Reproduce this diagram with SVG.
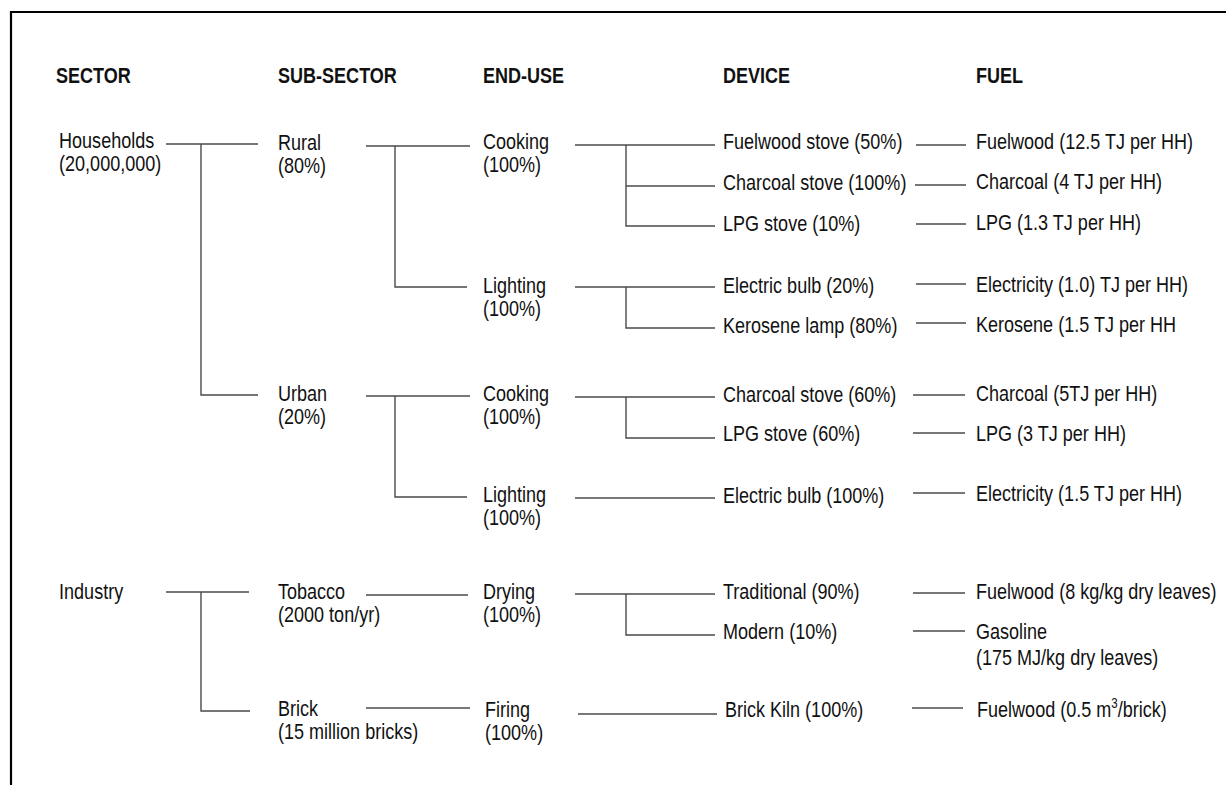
<svg xmlns="http://www.w3.org/2000/svg" width="1226" height="785" viewBox="0 0 1226 785">
<style>
text{font-family:"Liberation Sans",Arial,sans-serif;font-size:22px;fill:#111}
.h{font-weight:bold}
.n{transform:scale(0.82,1)}
.c line,.c polyline{stroke:#4a4a4a;stroke-width:1.4;fill:none}
.frame{stroke:#000;stroke-width:2.2;fill:none}
</style>
<rect width="1226" height="785" fill="#fff"/>
<path class="frame" d="M11,785 V12 H1226"/>
<g id="headers" class="n">
<text class="h" x="68.3" y="83">SECTOR</text>
<text class="h" x="339" y="83">SUB-SECTOR</text>
<text class="h" x="589" y="83">END-USE</text>
<text class="h" x="881.7" y="83">DEVICE</text>
<text class="h" x="1190.2" y="83">FUEL</text>
</g>
<g class="c" id="connectors">
<line x1="166" y1="144" x2="258" y2="144"/>
<polyline points="201,144 201,395 258,395"/>
<line x1="366" y1="146" x2="470" y2="146"/>
<polyline points="395,146 395,287 467,287"/>
<line x1="575" y1="145" x2="715" y2="145"/>
<polyline points="626,145 626,226 715,226"/>
<line x1="626" y1="186" x2="715" y2="186"/>
<line x1="916" y1="145" x2="966" y2="145"/>
<line x1="915" y1="185" x2="966" y2="185"/>
<line x1="916" y1="224" x2="966" y2="224"/>
<line x1="575" y1="287" x2="715" y2="287"/>
<polyline points="626,287 626,328 715,328"/>
<line x1="916" y1="284" x2="966" y2="284"/>
<line x1="916" y1="323" x2="966" y2="323"/>
<line x1="366" y1="396" x2="470" y2="396"/>
<polyline points="395,396 395,497 467,497"/>
<line x1="575" y1="397" x2="715" y2="397"/>
<polyline points="626,397 626,438 715,438"/>
<line x1="575" y1="498" x2="715" y2="498"/>
<line x1="913" y1="395" x2="965" y2="395"/>
<line x1="913" y1="433" x2="965" y2="433"/>
<line x1="913" y1="493" x2="965" y2="493"/>
<line x1="166" y1="592" x2="249" y2="592"/>
<polyline points="201,592 201,711 250,711"/>
<line x1="366" y1="595" x2="468" y2="595"/>
<line x1="366" y1="708" x2="470" y2="708"/>
<line x1="575" y1="594" x2="715" y2="594"/>
<polyline points="626,594 626,635 715,635"/>
<line x1="578" y1="714" x2="717" y2="714"/>
<line x1="913" y1="593" x2="965" y2="593"/>
<line x1="913" y1="631" x2="965" y2="631"/>
<line x1="912" y1="708" x2="963" y2="708"/>
</g>
<g id="households" class="n"><text x="72" y="148">Households</text><text x="72" y="171">(20,000,000)</text></g>
<g id="rural" class="n"><text x="339" y="150">Rural</text><text x="339" y="173">(80%)</text></g>
<g id="urban" class="n"><text x="339" y="401">Urban</text><text x="339" y="424">(20%)</text></g>
<g id="industry" class="n"><text x="72" y="599">Industry</text></g>
<g id="tobacco" class="n"><text x="339" y="599">Tobacco</text><text x="339" y="622">(2000 ton/yr)</text></g>
<g id="brick" class="n"><text x="339" y="716">Brick</text><text x="339" y="739">(15 million bricks)</text></g>
<g id="rural-cooking" class="n"><text x="589" y="149">Cooking</text><text x="589" y="172">(100%)</text></g>
<g id="rural-lighting" class="n"><text x="589" y="293">Lighting</text><text x="589" y="316">(100%)</text></g>
<g id="urban-cooking" class="n"><text x="589" y="401">Cooking</text><text x="589" y="424">(100%)</text></g>
<g id="urban-lighting" class="n"><text x="589" y="502">Lighting</text><text x="589" y="525">(100%)</text></g>
<g id="drying" class="n"><text x="589" y="599">Drying</text><text x="589" y="622">(100%)</text></g>
<g id="firing" class="n"><text x="591.5" y="717">Firing</text><text x="591.5" y="740">(100%)</text></g>
<g id="dev-fuelwood-stove" class="n"><text x="881.7" y="149">Fuelwood stove (50%)</text></g>
<g id="dev-charcoal-stove-r" class="n"><text x="881.7" y="190">Charcoal stove (100%)</text></g>
<g id="dev-lpg-stove-r" class="n"><text x="881.7" y="231">LPG stove (10%)</text></g>
<g id="dev-bulb-r" class="n"><text x="881.7" y="293">Electric bulb (20%)</text></g>
<g id="dev-kerosene" class="n"><text x="881.7" y="333">Kerosene lamp (80%)</text></g>
<g id="dev-charcoal-stove-u" class="n"><text x="881.7" y="402">Charcoal stove (60%)</text></g>
<g id="dev-lpg-stove-u" class="n"><text x="881.7" y="441">LPG stove (60%)</text></g>
<g id="dev-bulb-u" class="n"><text x="881.7" y="503">Electric bulb (100%)</text></g>
<g id="dev-traditional" class="n"><text x="881.7" y="599">Traditional (90%)</text></g>
<g id="dev-modern" class="n"><text x="881.7" y="639">Modern (10%)</text></g>
<g id="dev-kiln" class="n"><text x="884.1" y="717">Brick Kiln (100%)</text></g>
<g id="fuel-1" class="n"><text x="1190.2" y="149">Fuelwood (12.5 TJ per HH)</text></g>
<g id="fuel-2" class="n"><text x="1190.2" y="189">Charcoal (4 TJ per HH)</text></g>
<g id="fuel-3" class="n"><text x="1190.2" y="230">LPG (1.3 TJ per HH)</text></g>
<g id="fuel-4" class="n"><text x="1190.2" y="292">Electricity (1.0) TJ per HH)</text></g>
<g id="fuel-5" class="n"><text x="1190.2" y="332">Kerosene (1.5 TJ per HH</text></g>
<g id="fuel-6" class="n"><text x="1190.2" y="401">Charcoal (5TJ per HH)</text></g>
<g id="fuel-7" class="n"><text x="1190.2" y="441">LPG (3 TJ per HH)</text></g>
<g id="fuel-8" class="n"><text x="1190.2" y="501">Electricity (1.5 TJ per HH)</text></g>
<g id="fuel-9" class="n"><text x="1190.2" y="599">Fuelwood (8 kg/kg dry leaves)</text></g>
<g id="fuel-10" class="n"><text x="1190.2" y="639">Gasoline</text><text x="1190.2" y="665">(175 MJ/kg dry leaves)</text></g>
<g id="fuel-11" class="n"><text x="1191.5" y="717">Fuelwood (0.5 m<tspan font-size="14" dy="-9">3</tspan><tspan dy="9">/brick)</tspan></text></g>
</svg>
